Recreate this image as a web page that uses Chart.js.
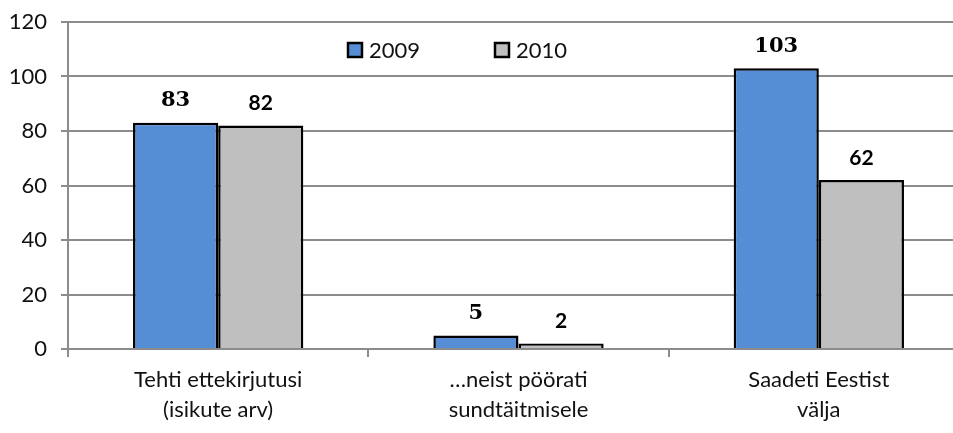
<!DOCTYPE html>
<html>
<head>
<meta charset="utf-8">
<script src="https://cdn.jsdelivr.net/npm/chart.js@4/dist/chart.umd.min.js"></script>
<style>
  html, body { margin: 0; padding: 0; background: #fff; overflow: hidden; }
  #wrap { width: 969px; height: 433px; position: relative; }
</style>
</head>
<body>
<div id="wrap"><canvas id="chart"></canvas></div>
<script>
var categories = [
    ['Tehti ettekirjutusi', '(isikute arv)'],
    ['\u2026neist pöörati', 'sundtäitmisele'],
    ['Saadeti Eestist', 'välja']
];
var seriesNames = ['2009', '2010'];
var values2009 = [83, 5, 103];
var values2010 = [82, 2, 62];
var yTicks = [0, 20, 40, 60, 80, 100, 120];

var colors = ['#558ed5', '#bfbfbf'];
var labelFonts = ['bold 21px "DejaVu Serif"', 'bold 21px Lato'];

// values above each bar
var barLabels = {
    id: 'barLabels',
    afterDatasetsDraw: function(chart) {
        var ctx = chart.ctx;
        ctx.save();
        ctx.fillStyle = '#000';
        ctx.textAlign = 'center';
        ctx.textBaseline = 'middle';
        chart.data.datasets.forEach(function(ds, i) {
            var meta = chart.getDatasetMeta(i);
            ctx.font = labelFonts[i];
            meta.data.forEach(function(bar, j) {
                ctx.fillText(ds.data[j], bar.x, bar.y - 22);
            });
        });
        ctx.restore();
    }
};

// legend drawn inside the plot area
var innerLegend = {
    id: 'innerLegend',
    afterDraw: function(chart) {
        var ctx = chart.ctx;
        var area = chart.chartArea;
        var xs = [348, 495];
        var y = area.top + 28;
        ctx.save();
        ctx.font = '22px Lato';
        ctx.textBaseline = 'middle';
        chart.data.datasets.forEach(function(ds, i) {
            ctx.fillStyle = ds.backgroundColor;
            ctx.fillRect(xs[i], y - 7, 14, 14);
            ctx.lineWidth = 2.5;
            ctx.strokeStyle = '#000';
            ctx.strokeRect(xs[i], y - 7, 14, 14);
            ctx.fillStyle = '#111';
            ctx.fillText(ds.label, xs[i] + 21, y + 1);
        });
        ctx.restore();
    }
};

window.onload = function() {
    var ctx = document.getElementById('chart').getContext('2d');
    var config = {
        type: 'bar',
        data: {
            labels: categories,
            datasets: [{
                label: seriesNames[0],
                data: values2009,
                backgroundColor: colors[0],
                borderColor: '#000',
                borderWidth: 2.5
            }, {
                label: seriesNames[1],
                data: values2010,
                backgroundColor: colors[1],
                borderColor: '#000',
                borderWidth: 2.5
            }]
        },
        options: {
            responsive: true,
            maintainAspectRatio: false,
            animation: false,
            layout: { padding: { top: 22, right: 0, left: 0, bottom: 0 } },
            datasets: { bar: { barPercentage: 1, categoryPercentage: 0.567 } },
            plugins: {
                legend: { display: false },
                tooltip: { enabled: false }
            },
            scales: {
                x: {
                    grid: { drawOnChartArea: false, color: '#8c8c8c', lineWidth: 2, tickLength: 8, offset: true },
                    border: { color: '#8c8c8c', width: 2 },
                    ticks: {
                        color: '#111',
                        padding: 8,
                        font: { family: 'Lato', size: 22, lineHeight: 1.36 },
                        maxRotation: 0
                    },
                    afterFit: function(scale) { scale.height = 84; }
                },
                y: {
                    min: 0,
                    max: 120,
                    afterBuildTicks: function(scale) {
                        scale.ticks = yTicks.map(function(v) { return { value: v }; });
                    },
                    grid: { color: '#8c8c8c', lineWidth: 2, tickLength: 7 },
                    border: { color: '#8c8c8c', width: 2 },
                    ticks: {
                        color: '#111',
                        padding: 14,
                        font: { family: 'Lato', size: 22 }
                    },
                    afterFit: function(scale) {
                        scale.width = 68;
                        scale.paddingTop = 0;
                        scale.paddingBottom = 0;
                    }
                }
            }
        },
        plugins: [barLabels, innerLegend]
    };
    window.myBar = new Chart(ctx, config);
};
</script>
</body>
</html>
